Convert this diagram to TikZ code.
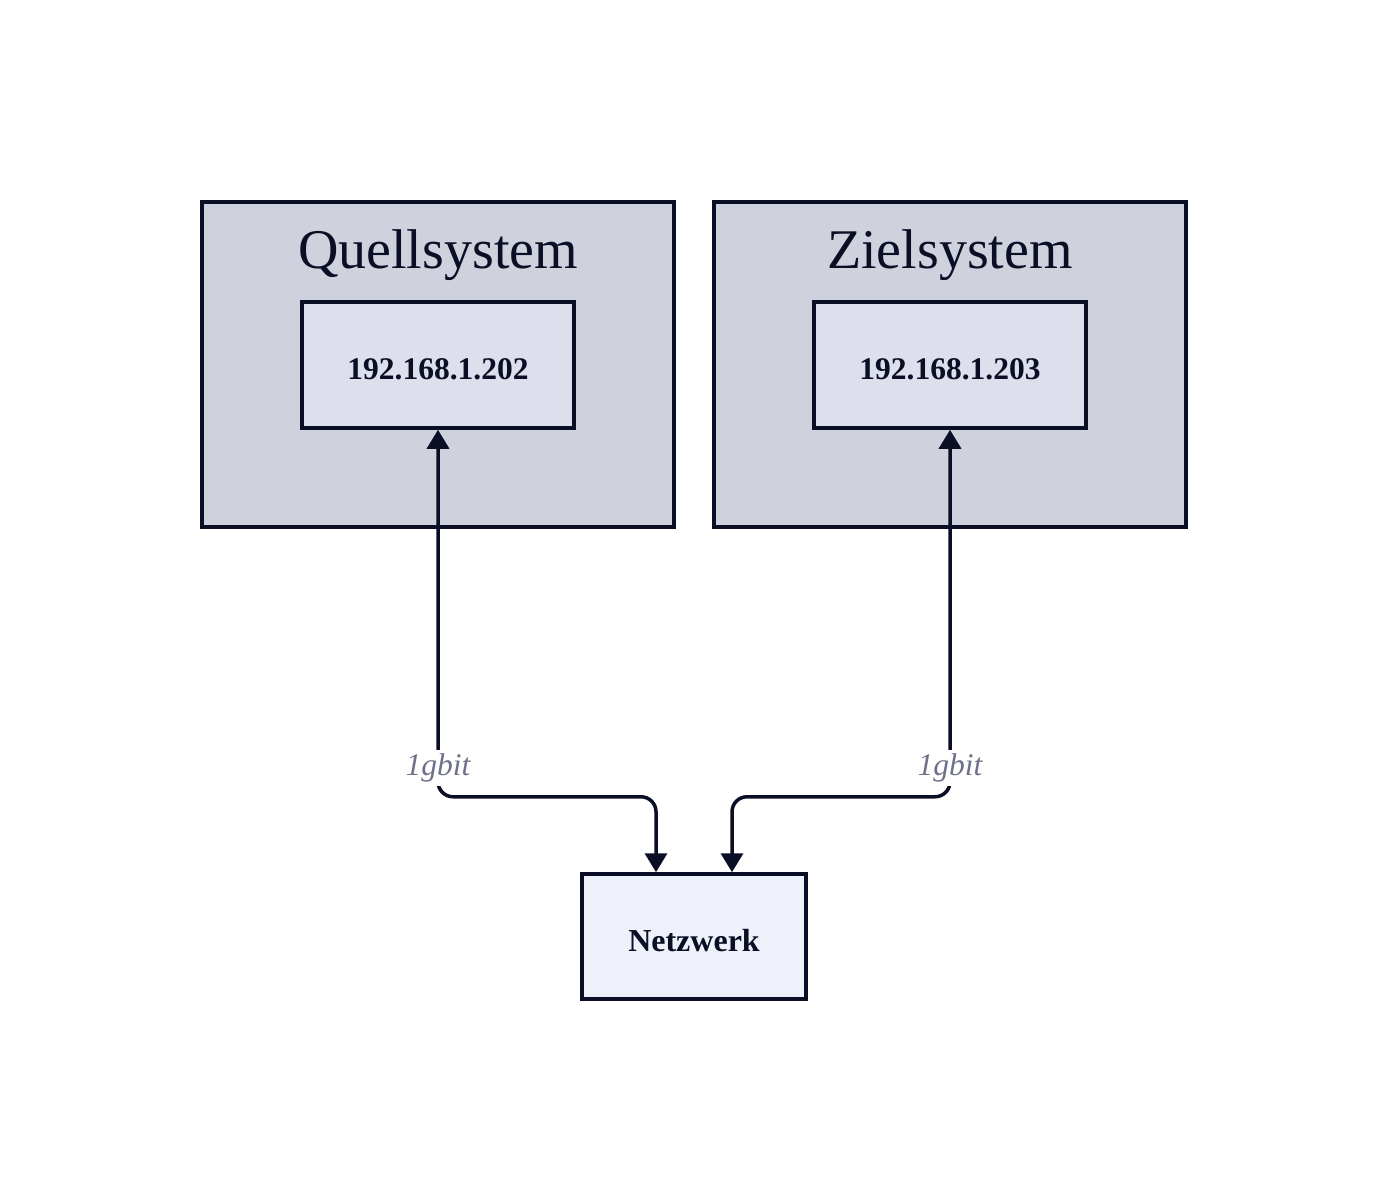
\documentclass[tikz,border=0pt]{standalone}
\usepackage{fontspec}
\setmainfont{Liberation Serif}
\usetikzlibrary{positioning,arrows.meta,calc}
\definecolor{sysfill}{HTML}{CFD1DD}
\definecolor{ipfill}{HTML}{DDE0EC}
\definecolor{netfill}{HTML}{EEF1F9}
\definecolor{darkline}{HTML}{0A0F26}
\definecolor{lblgray}{HTML}{6F7289}
\begin{document}
\begin{tikzpicture}[x=1pt, y=-1pt, >={Triangle[width=22pt,length=19pt]}]
    \useasboundingbox (0,0) rectangle (1388,1202);
    % Quellsystem
    \node [draw=darkline,
        line width=3.5pt,
        fill=sysfill,
        minimum width=472pt,
        minimum height=325pt
    ]  (Quell) at (438,364.5) {};
    \node [text=darkline,
        font=\fontsize{56}{62}\selectfont
    ]  (QuellTitle) at (438,255) {Quellsystem};
    \node [draw=darkline,
        line width=3.5pt,
        fill=ipfill,
        minimum width=272pt,
        minimum height=126pt,
        text height=28.6pt,
        text depth=0pt,
        text=darkline,
        font=\fontsize{31.5}{36}\selectfont\bfseries
    ]  (QuellIp) at (438,365) {192.168.1.202};
    % Zielsystem
    \node [draw=darkline,
        line width=3.5pt,
        fill=sysfill,
        minimum width=472pt,
        minimum height=325pt,
        right=36.5pt of Quell
    ]  (Ziel) {};
    \node [text=darkline,
        font=\fontsize{56}{62}\selectfont
    ]  (ZielTitle) at (950,255) {Zielsystem};
    \node [draw=darkline,
        line width=3.5pt,
        fill=ipfill,
        minimum width=272pt,
        minimum height=126pt,
        text height=28.6pt,
        text depth=0pt,
        text=darkline,
        font=\fontsize{31.5}{36}\selectfont\bfseries
    ]  (ZielIp) at (950,365) {192.168.1.203};
    % Netzwerk
    \node [draw=darkline,
        line width=3.5pt,
        fill=netfill,
        minimum width=224pt,
        minimum height=125pt,
        text height=29pt,
        text depth=0pt,
        text=darkline,
        font=\fontsize{32}{36}\selectfont\bfseries
    ]  (Netz) at (694,936.5) {Netzwerk};
    \coordinate (NetzLeft) at ($(Netz.north)+(-38,0)$);
    \coordinate (NetzRight) at ($(Netz.north)+(38,0)$);

    \draw[<->, darkline, line width=3.5pt, rounded corners=15pt]
    (QuellIp.south) -- ++(0,367) -| (NetzLeft);
    \draw[<->, darkline, line width=3.5pt, rounded corners=15pt]
    (ZielIp.south) -- ++(0,367) -| (NetzRight);
    \node[fill=white, inner sep=4pt, text=lblgray,
        font=\fontsize{31.5}{36}\selectfont\itshape
    ]  (QuellSpeed) at (438,768) {1gbit};
    \node[fill=white, inner sep=4pt, text=lblgray,
        font=\fontsize{31.5}{36}\selectfont\itshape
    ]  (ZielSpeed) at (950,768) {1gbit};
\end{tikzpicture}
\end{document}
